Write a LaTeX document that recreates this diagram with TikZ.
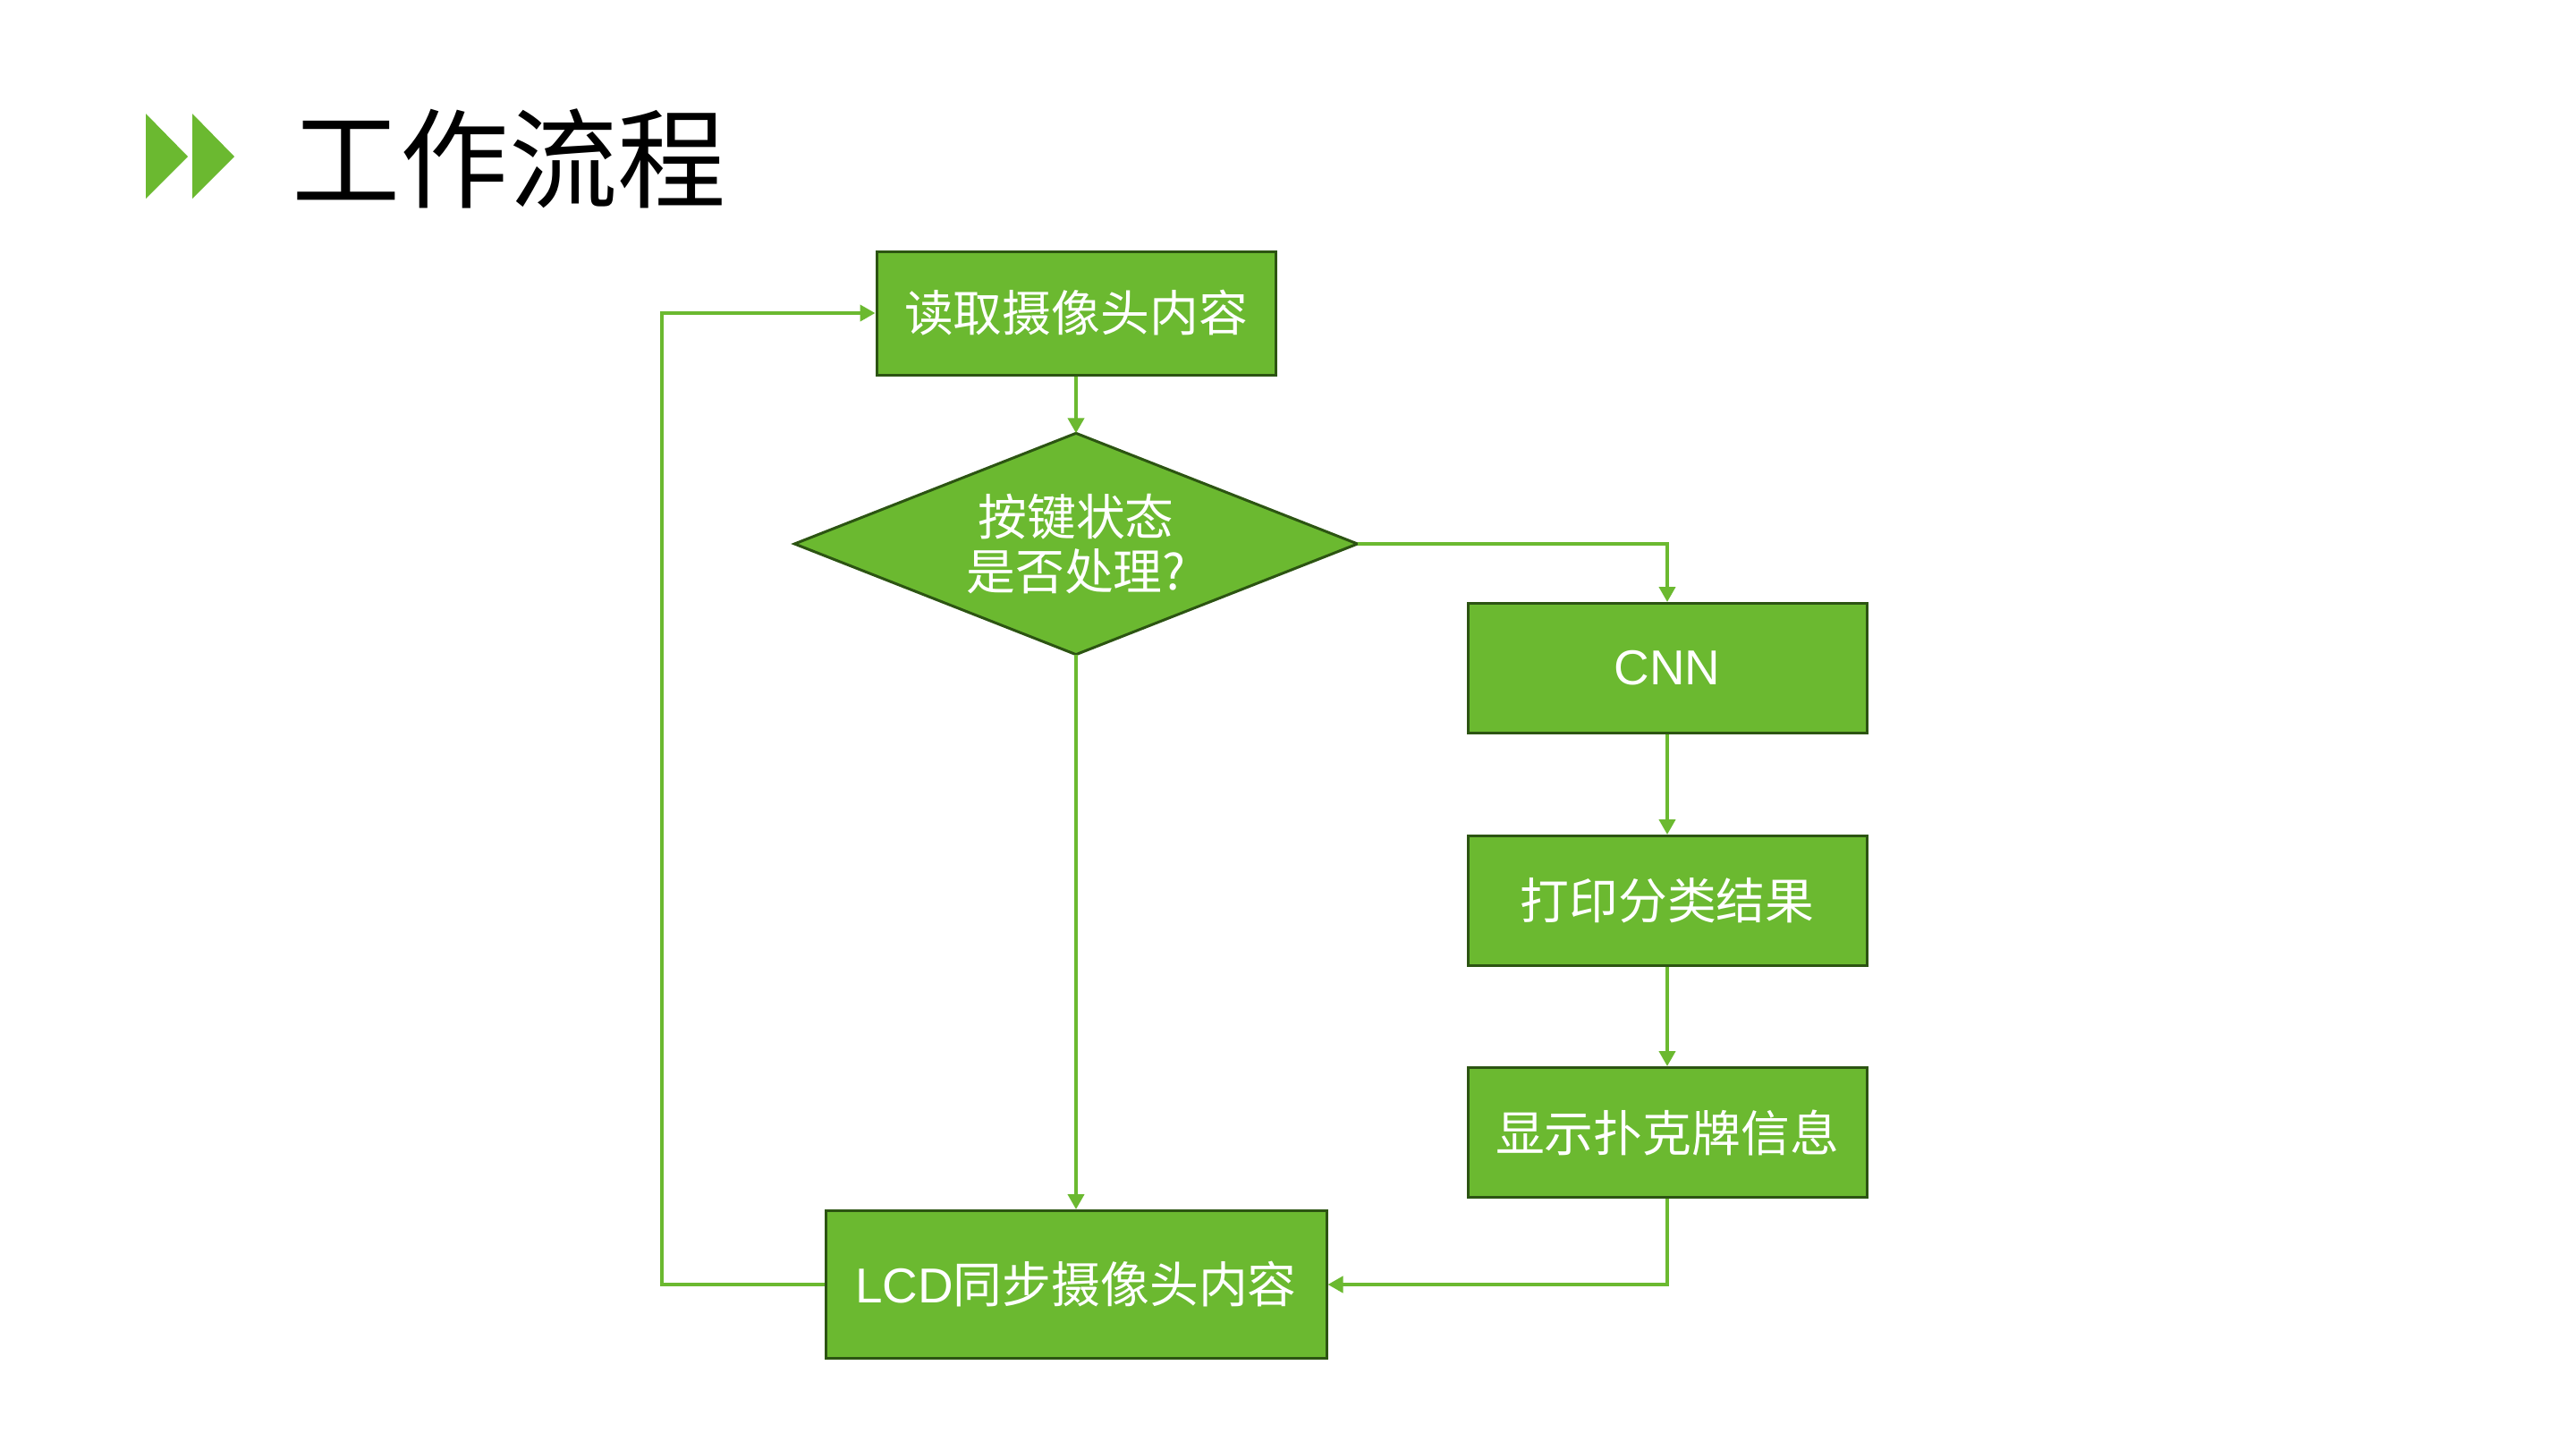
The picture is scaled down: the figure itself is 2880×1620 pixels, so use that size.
\documentclass[tikz,border=0pt]{standalone}
\usepackage{fontspec}
\setmainfont{Liberation Sans}
\newfontfamily\cjk{Noto Sans CJK SC}
\usetikzlibrary{arrows.meta}
\definecolor{gfill}{RGB}{107,185,48}
\definecolor{gline}{RGB}{44,84,18}
\definecolor{gconn}{RGB}{107,185,48}
\tikzset{
  boxnode/.style={draw=gline, line width=0.3mm, fill=gfill, text=white, inner sep=0pt,
    minimum width=44.6mm, minimum height=14.5mm, font=\fontsize{15.6pt}{17.6pt}\selectfont\cjk, align=center},
  decnode/.style={rectangle, text=white, inner sep=0pt,
    minimum width=62.8mm, minimum height=24.6mm, font=\fontsize{15.6pt}{17.6pt}\selectfont\cjk, align=center},
  decshape/.style={draw=gline, line width=0.3mm, fill=gfill, line join=miter},
  conn/.style={draw=gconn, line width=0.4mm, -{Triangle[width=1.8mm,length=1.7mm]}}
}
\begin{document}
\begin{tikzpicture}[x=0.1mm,y=-0.1mm]
\useasboundingbox[fill=white] (0,0) rectangle (2880,1620);
% title
\fill[gfill] (163,127) -- (210,175) -- (163,222) -- cycle;
\fill[gfill] (215,127) -- (262,175) -- (215,222) -- cycle;
\node[anchor=west, inner sep=0pt, font=\fontsize{34.5pt}{40pt}\selectfont\cjk] (title) at (326,177) {工作流程};
% nodes
\node[boxnode, minimum height=13.8mm] (b1) at (1203,350) {读取摄像头内容};
\node[decnode] (d) at (1203,608) {};
\draw[decshape] (d.north) -- (d.east) -- (d.south) -- (d.west) -- cycle;
\node[decnode] (dtext) at (d.center) {按键状态\\是否处理?};
\node[boxnode] (cnn) at (1864,747) {\fontspec{Liberation Sans}CNN};
\node[boxnode] (prt) at (1864,1007) {打印分类结果};
\node[boxnode] (disp) at (1864,1266) {显示扑克牌信息};
\node[boxnode, minimum width=56mm, minimum height=16.5mm] (lcd) at (1203,1436) {{\fontspec{Liberation Sans}LCD}同步摄像头内容};
\coordinate (loopT) at (740,350);
% connectors
\draw[conn] (b1.south) -- (d.north);
\draw[conn] (d.south) -- (lcd.north);
\draw[conn] (d.east) -| (cnn.north);
\draw[conn] (cnn.south) -- (prt.north);
\draw[conn] (prt.south) -- (disp.north);
\draw[conn] (disp.south) |- (lcd.east);
\draw[conn] (lcd.west) -| (loopT) -- (b1.west);
\end{tikzpicture}
\end{document}
